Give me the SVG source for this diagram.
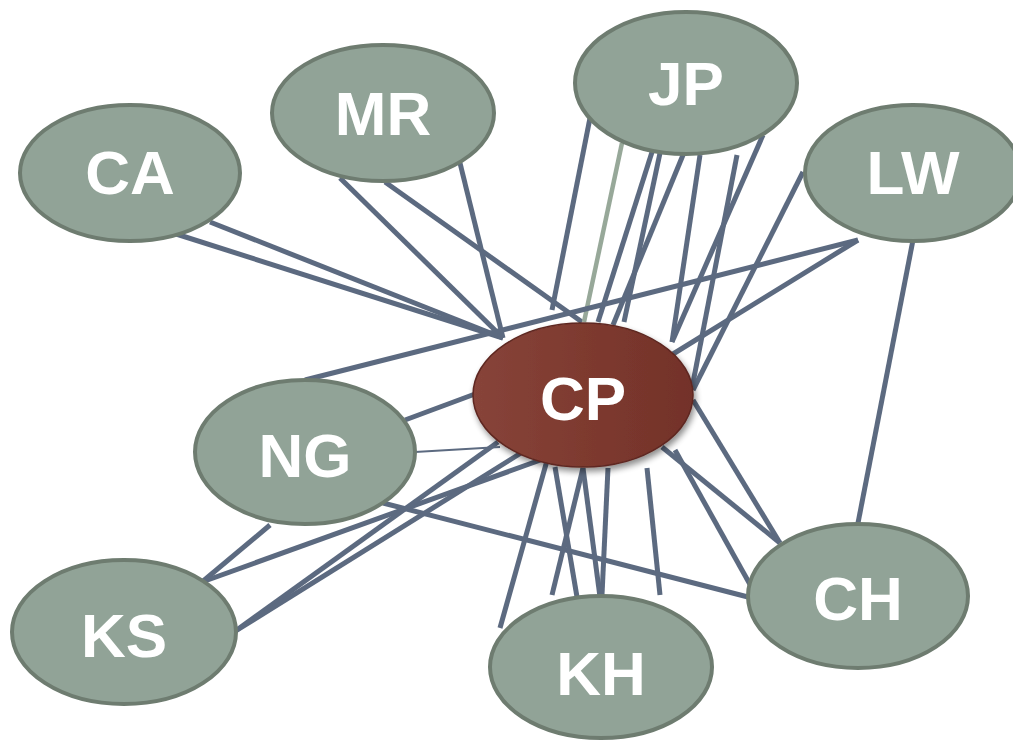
<svg xmlns="http://www.w3.org/2000/svg" width="1013" height="741" viewBox="0 0 1013 741">
<style>
.n ellipse{fill:#91A397;stroke:#6E7C70;stroke-width:4}
text{font-family:"Liberation Sans",Arial,sans-serif;font-weight:bold;font-size:62px;fill:#fff;text-anchor:middle}
.c line{stroke:#5C6A80;stroke-width:5;stroke-linecap:butt}
.c line.thin{stroke-width:2}
.c line.g{stroke:#97A899;stroke-width:4.5}
</style>
<defs>
<linearGradient id="cpg" x1="0" y1="0" x2="1" y2="0">
<stop offset="0" stop-color="#87443A"/>
<stop offset="0.5" stop-color="#7E3A2F"/>
<stop offset="1" stop-color="#73322A"/>
</linearGradient>
<filter id="sh" x="-20%" y="-20%" width="140%" height="150%">
<feGaussianBlur in="SourceAlpha" stdDeviation="3"/>
<feOffset dx="2" dy="4" result="b"/>
<feComponentTransfer><feFuncA type="linear" slope="0.45"/></feComponentTransfer>
<feMerge><feMergeNode/><feMergeNode in="SourceGraphic"/></feMerge>
</filter>
</defs>
<rect width="1013" height="741" fill="#fff"/>
<g id="connectors" class="c">
<line x1="173" y1="233" x2="503" y2="338"/>
<line x1="210" y1="222" x2="503" y2="338"/>
<line x1="340" y1="178" x2="503" y2="338"/>
<line x1="460" y1="163" x2="503" y2="338"/>
<line x1="385" y1="182" x2="582" y2="322"/>
<line x1="590" y1="118" x2="552" y2="310"/>
<line class="g" x1="622" y1="143" x2="584" y2="322"/>
<line x1="652" y1="152" x2="598" y2="322"/>
<line x1="660" y1="153" x2="624" y2="322"/>
<line x1="683" y1="155" x2="613" y2="325"/>
<line x1="700" y1="155" x2="672" y2="342"/>
<line x1="737" y1="155" x2="692" y2="388"/>
<line x1="763" y1="135" x2="672" y2="342"/>
<line x1="803" y1="172" x2="693" y2="390"/>
<line x1="858" y1="240" x2="305" y2="380"/>
<line x1="858" y1="240" x2="673" y2="354"/>
<line x1="913" y1="240" x2="858" y2="523"/>
<line x1="405" y1="420" x2="475" y2="394"/>
<line class="thin" x1="415" y1="452" x2="500" y2="447"/>
<line x1="383" y1="503" x2="748" y2="597"/>
<line x1="202" y1="582" x2="270" y2="525"/>
<line x1="202" y1="582" x2="546" y2="458"/>
<line x1="234" y1="632" x2="498" y2="442"/>
<line x1="234" y1="632" x2="521" y2="453"/>
<line x1="548" y1="457" x2="500" y2="628"/>
<line x1="555" y1="467" x2="577" y2="597"/>
<line x1="583" y1="468" x2="552" y2="595"/>
<line x1="583" y1="468" x2="600" y2="597"/>
<line x1="608" y1="468" x2="602" y2="595"/>
<line x1="647" y1="468" x2="660" y2="595"/>
<line x1="693" y1="400" x2="780" y2="543"/>
<line x1="662" y1="447" x2="780" y2="543"/>
<line x1="675" y1="450" x2="752" y2="588"/>
</g>
<g id="CA" class="n"><ellipse cx="130" cy="173" rx="110" ry="68"/><text x="130" y="194">CA</text></g>
<g id="MR" class="n"><ellipse cx="383" cy="113" rx="111" ry="68"/><text x="383" y="135">MR</text></g>
<g id="JP" class="n"><ellipse cx="686" cy="83" rx="111" ry="71"/><text x="686" y="105">JP</text></g>
<g id="LW" class="n"><ellipse cx="913" cy="173" rx="108" ry="68"/><text x="913" y="194">LW</text></g>
<g id="NG" class="n"><ellipse cx="305" cy="452" rx="110" ry="72"/><text x="305" y="477">NG</text></g>
<g id="KS" class="n"><ellipse cx="124" cy="632" rx="112" ry="72"/><text x="124" y="657">KS</text></g>
<g id="KH" class="n"><ellipse cx="601" cy="667" rx="111" ry="71"/><text x="601" y="695">KH</text></g>
<g id="CH" class="n"><ellipse cx="858" cy="596" rx="110" ry="72"/><text x="858" y="620">CH</text></g>
<g id="CP"><ellipse cx="583" cy="395" rx="110" ry="72" fill="url(#cpg)" stroke="#5E2820" stroke-width="1.5" filter="url(#sh)"/><text x="583" y="420">CP</text></g>
</svg>
